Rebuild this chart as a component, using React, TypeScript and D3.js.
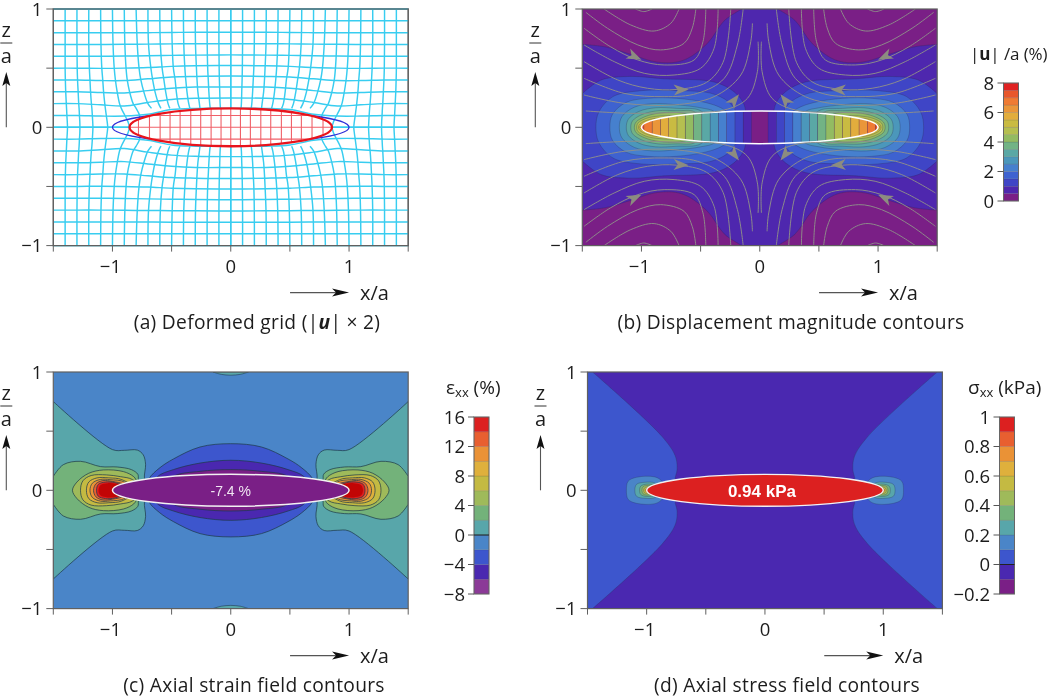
import React from "react";
import * as d3 from "d3";

type P = [number, number];

// ---- panel frames ----
const UNIT = 118.3;
const xDomain: P = [-1.5, 1.5];
const zDomain: P = [-1, 1];
const xTicks = [-1.5, -1, -0.5, 0, 0.5, 1, 1.5];
const zTicks = [-1, -0.5, 0, 0.5, 1];
const FONT = "'Open Sans', 'Noto Sans', sans-serif";

// ---- colour ramps ----
const ramp16 = ["#7a1f86", "#4e27ae", "#3f45c6", "#3e62d0", "#4680ce", "#4b97bb", "#5aa8a5", "#72b385", "#93bb62", "#b5bf50", "#c9bb42", "#e2ad3d", "#ea963a", "#ef7b34", "#e8572c", "#e02222"];
const ramp12 = ["#7a1f86", "#4a28b0", "#3d56cd", "#4a85c8", "#58a6aa", "#73b27a", "#9fba5a", "#c4ba42", "#dfb03c", "#ea9236", "#e85f30", "#dc2020"];
const barC = ["#8b3a97", ...ramp12.slice(1)];

// ---- panel (a): deformed grid, upper-left quadrant ----
const gridColumnsZ = [1, 0.7, 0.5, 0.4, 0.3, 0.2, 0.16, 0.1, 0.05, 0];
const gridColumns: number[][] = [
  [-1.4, -1.4, -1.4, -1.398, -1.395, -1.39, -1.388, -1.385, -1.382, -1.38],
  [-1.3, -1.3, -1.298, -1.295, -1.29, -1.285, -1.282, -1.279, -1.276, -1.275],
  [-1.2, -1.2, -1.195, -1.19, -1.185, -1.178, -1.174, -1.17, -1.167, -1.165],
  [-1.1, -1.097, -1.09, -1.082, -1.075, -1.065, -1.06, -1.052, -1.045, -1.04],
  [-1.0, -0.995, -0.985, -0.975, -0.96, -0.94, -0.925, -0.895, -0.87, -0.856],
  [-0.9, -0.895, -0.885, -0.875, -0.855, -0.825, -0.8, -0.77, -0.77, -0.77],
  [-0.8, -0.79, -0.775, -0.76, -0.735, -0.7, -0.67],
  [-0.7, -0.695, -0.675, -0.66, -0.64, -0.61, -0.59],
  [-0.6, -0.595, -0.58, -0.565, -0.55, -0.53, -0.515],
  [-0.5, -0.495, -0.485, -0.47, -0.46, -0.445, -0.43],
  [-0.4, -0.397, -0.388, -0.38, -0.37, -0.355, -0.345],
  [-0.3, -0.298, -0.29, -0.285, -0.278, -0.265, -0.26],
  [-0.2, -0.199, -0.195, -0.19, -0.185, -0.178, -0.173],
  [-0.1, -0.1, -0.098, -0.096, -0.093, -0.09, -0.087],
  [0, 0, 0, 0, 0, 0, 0],
];
const gridRowsX = [-1.5, -1.3, -1.1, -0.9, -0.7, -0.5, -0.3, 0];
const gridRows: number[][] = [
  [1, 1, 1, 1, 1, 1, 1, 1],
  [0.9, 0.9, 0.9, 0.9, 0.9, 0.9, 0.9, 0.9],
  [0.8, 0.8, 0.8, 0.8, 0.8, 0.802, 0.803, 0.803],
  [0.7, 0.7, 0.7, 0.702, 0.703, 0.705, 0.706, 0.707],
  [0.6, 0.6, 0.6, 0.602, 0.605, 0.608, 0.61, 0.612],
  [0.5, 0.5, 0.498, 0.5, 0.505, 0.515, 0.52, 0.522],
  [0.4, 0.4, 0.395, 0.395, 0.41, 0.425, 0.43, 0.433],
  [0.3, 0.3, 0.295, 0.29, 0.31, 0.33, 0.34, 0.34],
  [0.2, 0.2, 0.19, 0.18, 0.21, 0.235, 0.245, 0.248],
  [0.1, 0.1, 0.095, 0.095, 0.11, 0.15, 0.16, 0.16],
  [0, 0, 0, 0, 0, 0, 0, 0],
];
const innerColumnsX = [-0.78, -0.687, -0.597, -0.513, -0.428, -0.338, -0.254, -0.166, -0.082, 0, 0.082, 0.166, 0.254, 0.338, 0.428, 0.513, 0.597, 0.687, 0.78];
const innerRowsZ = [-0.1, 0, 0.1];
const originalEllipse: P = [1, 0.135];
const deformedEllipse: P = [0.856, 0.16];

// ---- panel (b): |u|/a contours, left lobe, upper half ----
const bLobes: { band: number; open?: boolean; pts: P[] }[] = [
  { band: 2, open: true, pts: [[-1.5, 0.285], [-1.34, 0.4], [-1.09, 0.43], [-0.81, 0.41], [-0.386, 0.383], [-0.217, 0.3], [-0.13, 0.186], [-0.118, 0]] },
  { band: 3, pts: [[-1.385, 0], [-1.36, 0.13], [-1.24, 0.26], [-1.0, 0.31], [-0.7, 0.31], [-0.42, 0.29], [-0.27, 0.22], [-0.2, 0.13], [-0.18, 0]] },
  { band: 4, pts: [[-1.267, 0], [-1.245, 0.11], [-1.13, 0.21], [-0.95, 0.245], [-0.7, 0.245], [-0.46, 0.21], [-0.32, 0.16], [-0.25, 0.1], [-0.22, 0]] },
  { band: 5, pts: [[-1.187, 0], [-1.165, 0.09], [-1.06, 0.17], [-0.9, 0.2], [-0.7, 0.19], [-0.5, 0.165], [-0.38, 0.13], [-0.3, 0]] },
  { band: 6, pts: [[-1.128, 0], [-1.11, 0.07], [-1.02, 0.135], [-0.88, 0.165], [-0.7, 0.16], [-0.5, 0.14], [-0.4, 0]] },
  { band: 7, pts: [[-1.09, 0], [-1.075, 0.055], [-0.99, 0.11], [-0.86, 0.14], [-0.7, 0.14], [-0.55, 0.13], [-0.47, 0]] },
  { band: 8, pts: [[-1.06, 0], [-1.045, 0.045], [-0.97, 0.09], [-0.85, 0.12], [-0.7, 0.125], [-0.6, 0.1], [-0.54, 0]] },
  { band: 9, pts: [[-1.04, 0], [-1.03, 0.035], [-0.96, 0.075], [-0.85, 0.095], [-0.7, 0.09], [-0.6, 0]] },
  { band: 10, pts: [[-1.025, 0], [-1.015, 0.025], [-0.95, 0.06], [-0.85, 0.075], [-0.7, 0]] },
  { band: 11, pts: [[-1.015, 0], [-1.005, 0.015], [-0.95, 0.04], [-0.85, 0.05], [-0.74, 0]] },
];
const bCorner: P[] = [[-1.5, 0.7], [-1.306, 0.68], [-1.1, 0.62], [-0.86, 0.55], [-0.65, 0.565], [-0.445, 0.707], [-0.297, 0.904], [-0.15, 1]];
const bCentre: P = [0.067, 0.14];
const bInnerEdges = [0.07, 0.14, 0.21, 0.28, 0.35, 0.42, 0.49, 0.56, 0.63, 0.7, 0.77, 0.84, 0.91, 0.98, 1.0];
const bEllipse: P = [1, 0.138];
const streamlines: P[][] = [
  [[-1.05, 1.0], [-0.98, 0.978], [-0.91, 1.0]],
  [[-1.316, 1.0], [-1.09, 0.865], [-0.893, 0.814], [-0.752, 0.879], [-0.682, 1.0]],
  [[-1.47, 0.972], [-1.287, 0.837], [-1.03, 0.696], [-0.837, 0.654], [-0.64, 0.71], [-0.57, 0.84], [-0.54, 1.0]],
  [[-1.485, 0.837], [-1.26, 0.68], [-1.03, 0.569], [-0.808, 0.527], [-0.555, 0.569], [-0.48, 0.724], [-0.456, 1.0]],
  [[-1.485, 0.696], [-1.23, 0.555], [-0.975, 0.456], [-0.724, 0.442], [-0.5, 0.499], [-0.386, 0.668], [-0.352, 1.0]],
  [[-1.485, 0.555], [-1.2, 0.4], [-0.95, 0.33], [-0.7, 0.32], [-0.45, 0.38], [-0.31, 0.55], [-0.245, 1.0]],
  [[-1.485, 0.414], [-1.147, 0.287], [-0.808, 0.259], [-0.527, 0.287], [-0.3, 0.414], [-0.189, 0.696], [-0.14, 1.0]],
  [[-1.485, 0.273], [-1.147, 0.203], [-0.724, 0.189], [-0.386, 0.259], [-0.16, 0.442], [-0.076, 0.724], [-0.062, 0.879]],
  [[-1.47, 0.138], [-1.09, 0.118], [-0.668, 0.127], [-0.3, 0.146], [-0.104, 0.245], [-0.02, 0.47], [-0.014, 0.724]],
];
const streamArrows: [number, number, number, number][] = [
  [-1.0, 0.57, 0.9, -0.42],
  [-0.6, 0.32, 1, 0.04],
  [-0.175, 0.28, 0.62, 0.78],
];

// ---- panel (c): axial strain contours ----
const cOuter: { band: number; open?: boolean; pts: P[] }[] = [
  { band: 4, open: true, pts: [[-1.5, 0.75], [-1.0, 0.344], [-0.9, 0.338], [-0.79, 0.34], [-0.74, 0.3], [-0.72, 0.22], [-0.73, 0.1], [-0.7, 0]] },
  { band: 5, open: true, pts: [[-1.5, 0.118], [-1.415, 0.217], [-1.27, 0.245], [-1.1, 0.2], [-0.96, 0.197], [-0.84, 0.175], [-0.785, 0.135], [-0.78, 0.09], [-0.75, 0]] },
  { band: 6, pts: [[-1.338, 0], [-1.3, 0.07], [-1.2, 0.144], [-1.076, 0.172], [-0.907, 0.158], [-0.82, 0.115], [-0.79, 0.07], [-0.75, 0]] },
  { band: 7, pts: [[-1.27, 0], [-1.25, 0.08], [-1.18, 0.125], [-1.05, 0.13], [-0.93, 0.115], [-0.83, 0.09], [-0.75, 0]] },
  { band: 8, pts: [[-1.22, 0], [-1.2, 0.07], [-1.13, 0.105], [-1.03, 0.105], [-0.92, 0.09], [-0.8, 0]] },
  { band: 9, pts: [[-1.19, 0], [-1.17, 0.06], [-1.1, 0.092], [-1.02, 0.09], [-0.9, 0.07], [-0.85, 0]] },
  { band: 10, pts: [[-1.16, 0], [-1.14, 0.055], [-1.08, 0.082], [-1.0, 0.075], [-0.9, 0.05], [-0.85, 0]] },
  { band: 11, pts: [[-1.135, 0], [-1.12, 0.05], [-1.06, 0.07], [-0.98, 0.065], [-0.9, 0.035], [-0.85, 0]] },
];
const cCore: P[] = [[-1.118, 0], [-1.1, 0.045], [-1.04, 0.06], [-0.97, 0.055], [-0.9, 0.03], [-0.85, 0]];
const cCoreColour = "#c20505";
const cLens: { band: number; pts: P[] }[] = [
  { band: 2, pts: [[-0.72, 0], [-0.69, 0.1], [-0.6, 0.19], [-0.484, 0.265], [-0.26, 0.366], [0, 0.394]] },
  { band: 1, pts: [[-0.68, 0], [-0.62, 0.115], [-0.484, 0.175], [-0.26, 0.23], [0, 0.254]] },
  { band: 0, pts: [[-0.6, 0], [-0.48, 0.12], [-0.26, 0.16], [0, 0.175]] },
];
const cCap: P[] = [[-0.15, 1], [-0.08, 0.98], [0, 0.973], [0.08, 0.98], [0.15, 1]];
const cEllipse: P = [1, 0.135];

// ---- panel (d): axial stress contours ----
const dOuter: { band: number; open?: boolean; pts: P[] }[] = [
  { band: 2, open: true, pts: [[-1.457, 1], [-0.871, 0.456], [-0.757, 0.287], [-0.743, 0.175], [-0.76, 0.09], [-0.74, 0]] },
  { band: 3, pts: [[-1.171, 0], [-1.157, 0.076], [-1.086, 0.11], [-0.93, 0.113], [-0.87, 0.076], [-0.85, 0]] },
  { band: 4, pts: [[-1.1, 0], [-1.086, 0.05], [-1.014, 0.068], [-0.93, 0.06], [-0.9, 0]] },
  { band: 5, pts: [[-1.06, 0], [-1.05, 0.035], [-1.0, 0.052], [-0.93, 0.04], [-0.9, 0]] },
  { band: 6, pts: [[-1.04, 0], [-1.03, 0.03], [-1.0, 0.04], [-0.93, 0.025], [-0.9, 0]] },
  { band: 7, pts: [[-1.025, 0], [-1.018, 0.02], [-0.98, 0.03], [-0.93, 0.015], [-0.9, 0]] },
  { band: 9, pts: [[-1.012, 0], [-1.006, 0.012], [-0.98, 0.018], [-0.93, 0]] },
];
const dEllipse: P = [1, 0.135];

// ---- colour bars ----
const barBLevels = d3.range(17).map((i) => i * 0.5);
const barBTicks = [0, 2, 4, 6, 8];
const barCLevels = [-8, -6, -4, -2, 0, 2, 4, 6, 8, 10, 12, 14, 16];
const barCTicks = [-8, -4, 0, 4, 8, 12, 16];
const barDLevels = [-0.2, -0.1, 0, 0.1, 0.2, 0.3, 0.4, 0.5, 0.6, 0.7, 0.8, 0.9, 1];
const barDTicks = [-0.2, 0, 0.2, 0.4, 0.6, 0.8, 1];

const minus = (s: string) => s.replace("-", "\u2212");

function makeScales(left: number, top: number) {
  return {
    x: d3.scaleLinear().domain(xDomain).range([left, left + 3 * UNIT]),
    z: d3.scaleLinear().domain(zDomain).range([top + 2 * UNIT, top]),
  };
}
type S = ReturnType<typeof makeScales>;

function lineFor(s: S, curve: any) {
  return d3.line<P>().x((d) => s.x(d[0])).y((d) => s.z(d[1])).curve(curve);
}
function lobePath(s: S, pts: P[], sx: number, open?: boolean) {
  const top: P[] = pts.map(([x, z]) => [sx * x, z]);
  const first = top[0];
  const bottom: P[] = top.slice(0, -1).reverse().map(([x, z]) => [x, -z]);
  if (open) {
    const edge = sx * -1.5;
    return lineFor(s, d3.curveCatmullRom)([...top, ...bottom]) + `L${s.x(edge)},${s.z(-first[1])}L${s.x(edge)},${s.z(first[1])}Z`;
  }
  const inner: P[] = top.slice(1, -1).reverse().map(([x, z]) => [x, -z]);
  return lineFor(s, d3.curveCatmullRomClosed)([...top, ...inner]) as string;
}
function lensPath(s: S, pts: P[]) {
  const left = pts;
  const right: P[] = pts.slice(0, -1).reverse().map(([x, z]) => [-x, z]);
  const top = [...left, ...right];
  const inner: P[] = top.slice(1, -1).reverse().map(([x, z]) => [x, -z]);
  return lineFor(s, d3.curveCatmullRomClosed)([...top, ...inner]) as string;
}

const QUADS: P[] = [[1, 1], [-1, 1], [1, -1], [-1, -1]];

function Frame({ s }: { s: S }) {
  const [x0, x1] = s.x.range();
  const [z0, z1] = s.z.range();
  const col = "#606060";
  return (
    <g fontFamily={FONT} fill="#1c1c1c">
      <rect x={x0} y={z1} width={x1 - x0} height={z0 - z1} fill="none" stroke={col} strokeWidth={1.2} />
      {xTicks.map((t) => (
        <line key={t} x1={s.x(t)} x2={s.x(t)} y1={z0} y2={z0 + 6} stroke={col} strokeWidth={1} />
      ))}
      {zTicks.map((t) => (
        <line key={t} x1={x0 - 7} x2={x0} y1={s.z(t)} y2={s.z(t)} stroke={col} strokeWidth={1} />
      ))}
      {[-1, 0, 1].map((t) => (
        <text key={t} x={s.x(t) - (t < 0 ? 2 : 0)} y={z0 + 27} fontSize={18.5} textAnchor="middle">
          {minus(String(t))}
        </text>
      ))}
      {[-1, 0, 1].map((t) => (
        <text key={t} x={x0 - 11} y={s.z(t) + 6.5} fontSize={18.5} textAnchor="end">
          {minus(String(t))}
        </text>
      ))}
      {/* z/a fraction and arrow */}
      <text x={x0 - 47} y={z1 + 28} fontSize={20} textAnchor="middle">z</text>
      <line x1={x0 - 53} x2={x0 - 41} y1={z1 + 34} y2={z1 + 34} stroke="#333" strokeWidth={1} />
      <text x={x0 - 47} y={z1 + 54} fontSize={20} textAnchor="middle">a</text>
      <line x1={x0 - 47} x2={x0 - 47} y1={s.z(0)} y2={z1 + 70} stroke="#555" strokeWidth={1.1} />
      <polygon points={`${x0 - 47},${z1 + 63} ${x0 - 51},${z1 + 77} ${x0 - 47},${z1 + 74} ${x0 - 43},${z1 + 77}`} fill="#111" />
      {/* x/a arrow */}
      <line x1={s.x(1) - 59} x2={s.x(1) - 6} y1={z0 + 47} y2={z0 + 47} stroke="#555" strokeWidth={1.1} />
      <polygon points={`${s.x(1)},${z0 + 47} ${s.x(1) - 17},${z0 + 43} ${s.x(1) - 13},${z0 + 47} ${s.x(1) - 17},${z0 + 51}`} fill="#111" />
      <text x={s.x(1) + 11} y={z0 + 54} fontSize={20}>x/a</text>
    </g>
  );
}

function ColorBar({ left, top, height, levels, ticks, colours, labelEnd, fmt, zeroLine }: any) {
  const y = d3.scaleLinear().domain([levels[0], levels[levels.length - 1]]).range([top + height, top]);
  const w = 15;
  return (
    <g fontFamily={FONT} fill="#1c1c1c">
      {colours.map((c: string, i: number) => (
        <rect key={i} x={left} width={w} y={y(levels[i + 1])} height={y(levels[i]) - y(levels[i + 1])} fill={c} stroke="#444" strokeOpacity={0.25} strokeWidth={0.6} />
      ))}
      <rect x={left} y={top} width={w} height={height} fill="none" stroke="#666" strokeWidth={1} />
      {zeroLine && <line x1={left} x2={left + w} y1={y(0)} y2={y(0)} stroke="#222" strokeWidth={1} />}
      {ticks.map((t: number) => (
        <g key={t}>
          <line x1={left - 6} x2={left} y1={y(t)} y2={y(t)} stroke="#555" strokeWidth={1} />
          <text x={labelEnd} y={y(t) + 6.5} fontSize={18.5} textAnchor="end">{fmt(t)}</text>
        </g>
      ))}
    </g>
  );
}

const Caption = ({ x, y, children }: any) => (
  <text x={x} y={y} fontFamily={FONT} fontSize={19.2} textAnchor="middle" fill="#1c1c1c" letterSpacing={0.3}>
    {children}
  </text>
);

function PanelA({ s }: { s: S }) {
  const curve = lineFor(s, d3.curveCatmullRom);
  const paths: string[] = [];
  gridColumns.forEach((col) => {
    const upper: P[] = col.map((x, i) => [x, gridColumnsZ[i]]);
    const hasAxis = upper[upper.length - 1][1] === 0;
    [1, -1].forEach((sx) => {
      const up: P[] = upper.map(([x, z]) => [sx * x, z]);
      const down: P[] = up.slice(0, hasAxis ? -1 : undefined).reverse().map(([x, z]) => [x, -z]);
      if (hasAxis) paths.push(curve([...up, ...down]) as string);
      else {
        paths.push(curve(up) as string);
        paths.push(curve(down) as string);
      }
    });
  });
  gridRows.forEach((row) => {
    const left: P[] = row.map((z, i) => [gridRowsX[i], z]);
    const right: P[] = left.slice(0, -1).reverse().map(([x, z]) => [-x, z]);
    const whole = [...left, ...right];
    paths.push(curve(whole) as string);
    paths.push(curve(whole.map(([x, z]) => [x, -z] as P)) as string);
  });
  const [x0, x1] = s.x.range();
  const [z0, z1] = s.z.range();
  const cx = s.x(0);
  const cz = s.z(0);
  const rx = (e: P) => s.x(e[0]) - cx;
  const rz = (e: P) => cz - s.z(e[1]);
  return (
    <g>
      <defs>
        <clipPath id="innerA">
          <ellipse cx={cx} cy={cz} rx={rx(deformedEllipse)} ry={rz(deformedEllipse)} />
        </clipPath>
      </defs>
      <rect x={x0} y={z1} width={x1 - x0} height={z0 - z1} fill="none" stroke="#606060" strokeWidth={1.2} />
      {paths.map((d, i) => (
        <path key={i} d={d} fill="none" stroke="#38cdf0" strokeWidth={1.45} />
      ))}
      <ellipse cx={cx} cy={cz} rx={rx(originalEllipse)} ry={rz(originalEllipse)} fill="none" stroke="#3030d8" strokeWidth={1.3} />
      <ellipse cx={cx} cy={cz} rx={rx(deformedEllipse)} ry={rz(deformedEllipse)} fill="#fff" />
      <g clipPath="url(#innerA)" stroke="#f06068" strokeWidth={1.1}>
        {innerColumnsX.map((x) => (
          <line key={x} x1={s.x(x)} x2={s.x(x)} y1={s.z(0.2)} y2={s.z(-0.2)} />
        ))}
        {innerRowsZ.map((z) => (
          <line key={z} x1={s.x(-1)} x2={s.x(1)} y1={s.z(z)} y2={s.z(z)} />
        ))}
      </g>
      <ellipse cx={cx} cy={cz} rx={rx(deformedEllipse)} ry={rz(deformedEllipse)} fill="none" stroke="#e8141c" strokeWidth={2.3} />
    </g>
  );
}

function PanelB({ s }: { s: S }) {
  const [x0, x1] = s.x.range();
  const [z0, z1] = s.z.range();
  const cx = s.x(0);
  const cz = s.z(0);
  const stroke = "#2a2a50";
  const rawLine = lineFor(s, d3.curveCatmullRom);
  return (
    <g>
      <defs>
        <clipPath id="plotB"><rect x={x0} y={z1} width={x1 - x0} height={z0 - z1} /></clipPath>
        <clipPath id="innerB">
          <ellipse cx={cx} cy={cz} rx={s.x(bEllipse[0]) - cx} ry={cz - s.z(bEllipse[1])} />
        </clipPath>
      </defs>
      <g clipPath="url(#plotB)">
        <rect x={x0} y={z1} width={x1 - x0} height={z0 - z1} fill={ramp16[1]} />
        {QUADS.map(([a, b], i) => {
          const pts: P[] = bCorner.map(([x, z]) => [a * x, b * z]);
          return (
            <path key={i} d={rawLine(pts) + `L${s.x(a * -1.5)},${s.z(b)}Z`} fill={ramp16[0]} stroke={stroke} strokeOpacity={0.4} strokeWidth={0.7} />
          );
        })}
        {[1, -1].map((sx) =>
          bLobes.map((l) => (
            <path key={`${sx}${l.band}`} d={lobePath(s, l.pts, sx, l.open)} fill={ramp16[l.band]} stroke={stroke} strokeOpacity={0.4} strokeWidth={0.7} />
          ))
        )}
        <ellipse cx={cx} cy={cz} rx={s.x(bCentre[0]) - cx} ry={cz - s.z(bCentre[1])} fill={ramp16[0]} stroke={stroke} strokeOpacity={0.4} strokeWidth={0.7} />
        <g clipPath="url(#innerB)">
          <ellipse cx={cx} cy={cz} rx={s.x(1) - cx} ry={cz - s.z(0.2)} fill={ramp16[0]} />
          {[1, -1].map((sx) =>
            bInnerEdges.map((e, i) => {
              const next = bInnerEdges[i + 1] ?? 1.0;
              const a = s.x(sx * e);
              const b = s.x(sx * next);
              return (
                <rect key={`${sx}${i}`} x={Math.min(a, b)} width={Math.abs(b - a)} y={s.z(0.2)} height={s.z(-0.2) - s.z(0.2)} fill={ramp16[Math.min(i + 1, 15)]} stroke={stroke} strokeOpacity={0.35} strokeWidth={0.6} />
              );
            })
          )}
        </g>
        <ellipse cx={cx} cy={cz} rx={s.x(bEllipse[0]) - cx} ry={cz - s.z(bEllipse[1])} fill="none" stroke="#fff" strokeWidth={1.5} />
        {QUADS.map(([a, b], i) => (
          <g key={i}>
            {streamlines.map((pts, j) => (
              <path key={j} d={rawLine(pts.map(([x, z]) => [a * x, b * z] as P)) as string} fill="none" stroke="#8e8e8a" strokeWidth={0.95} />
            ))}
            {streamArrows.map(([x, z, dx, dz], j) => {
              const px = s.x(a * x);
              const py = s.z(b * z);
              const n = Math.hypot(dx, dz);
              const ux = (a * dx) / n;
              const uy = (-b * dz) / n;
              const pt = (back: number, side: number) => `${px - ux * back - uy * side},${py - uy * back + ux * side}`;
              return <polygon key={j} points={`${pt(0, 0)} ${pt(15, 5.5)} ${pt(11, 0)} ${pt(15, -5.5)}`} fill="#8c8c80" />;
            })}
          </g>
        ))}
      </g>
    </g>
  );
}

function PanelC({ s }: { s: S }) {
  const [x0, x1] = s.x.range();
  const [z0, z1] = s.z.range();
  const cx = s.x(0);
  const cz = s.z(0);
  const stroke = "#1f3a4a";
  const capLine = lineFor(s, d3.curveCatmullRom);
  return (
    <g>
      <defs>
        <clipPath id="plotC"><rect x={x0} y={z1} width={x1 - x0} height={z0 - z1} /></clipPath>
      </defs>
      <g clipPath="url(#plotC)">
        <rect x={x0} y={z1} width={x1 - x0} height={z0 - z1} fill={ramp12[3]} />
        {[1, -1].map((b) => (
          <path key={b} d={(capLine(cCap.map(([x, z]) => [x, b * z] as P)) as string) + "Z"} fill={ramp12[4]} stroke={stroke} strokeOpacity={0.7} strokeWidth={0.8} />
        ))}
        {cLens.map((l) => (
          <path key={l.band} d={lensPath(s, l.pts)} fill={ramp12[l.band]} stroke={stroke} strokeWidth={0.9} strokeOpacity={0.8} />
        ))}
        {[1, -1].map((sx) => (
          <g key={sx}>
            {cOuter.map((l) => (
              <path key={l.band} d={lobePath(s, l.pts, sx, l.open)} fill={ramp12[l.band]} stroke={stroke} strokeWidth={0.9} strokeOpacity={0.8} />
            ))}
            <path d={lobePath(s, cCore, sx)} fill={cCoreColour} />
          </g>
        ))}
        <ellipse cx={cx} cy={cz} rx={s.x(cEllipse[0]) - cx} ry={cz - s.z(cEllipse[1])} fill={ramp12[0]} stroke="#f2f2f2" strokeWidth={1.5} />
      </g>
      <text x={cx} y={cz + 6} fontFamily="'Liberation Sans', sans-serif" fontSize={14} fill="#f0e6f2" textAnchor="middle">-7.4 %</text>
    </g>
  );
}

function PanelD({ s }: { s: S }) {
  const [x0, x1] = s.x.range();
  const [z0, z1] = s.z.range();
  const cx = s.x(0);
  const cz = s.z(0);
  const stroke = "#2a3a60";
  return (
    <g>
      <defs>
        <clipPath id="plotD"><rect x={x0} y={z1} width={x1 - x0} height={z0 - z1} /></clipPath>
      </defs>
      <g clipPath="url(#plotD)">
        <rect x={x0} y={z1} width={x1 - x0} height={z0 - z1} fill={ramp12[1]} />
        {[1, -1].map((sx) =>
          dOuter.map((l) => (
            <path key={`${sx}${l.band}`} d={lobePath(s, l.pts, sx, l.open)} fill={ramp12[l.band]} stroke={stroke} strokeOpacity={0.45} strokeWidth={0.7} />
          ))
        )}
        <ellipse cx={cx} cy={cz} rx={s.x(dEllipse[0]) - cx} ry={cz - s.z(dEllipse[1])} fill={ramp12[11]} stroke="#f2f2f2" strokeWidth={1.4} />
      </g>
      <text x={cx - 3} y={cz + 7} fontFamily="'Liberation Sans', sans-serif" fontWeight={700} fontSize={17} fill="#fff" textAnchor="middle">0.94 kPa</text>
    </g>
  );
}

export default function App() {
  const a = makeScales(53.3, 9);
  const b = makeScales(582.3, 9);
  const c = makeScales(53.3, 372);
  const d = makeScales(587.5, 372);
  return (
    <svg width={1050} height={699} viewBox="0 0 1050 699" style={{ position: "absolute", left: 0, top: 0, background: "#fff", filter: "blur(0.35px)" }}>
      <PanelA s={a} />
      <Frame s={a} />
      <PanelB s={b} />
      <Frame s={b} />
      <PanelC s={c} />
      <Frame s={c} />
      <PanelD s={d} />
      <Frame s={d} />

      <ColorBar left={1003.5} top={83} height={118} levels={barBLevels} ticks={barBTicks} colours={ramp16} labelEnd={994} fmt={(t: number) => String(t)} />
      <ColorBar left={474} top={417} height={177} levels={barCLevels} ticks={barCTicks} colours={barC} labelEnd={465} fmt={(t: number) => minus(String(t))} zeroLine />
      <ColorBar left={999.5} top={417} height={177} levels={barDLevels} ticks={barDTicks} colours={ramp12} labelEnd={990} fmt={(t: number) => minus(String(t))} zeroLine />

      <text x={970} y={60} fontFamily={FONT} fontSize={17} letterSpacing={-0.1} fill="#1c1c1c">
        |<tspan fontWeight={700}>u</tspan>| /a (%)
      </text>
      <text x={446} y={394} fontFamily={FONT} fontSize={19} fill="#1c1c1c">
        ε<tspan fontSize={13} dy={3}>xx</tspan><tspan dy={-3}> (%)</tspan>
      </text>
      <text x={968} y={394} fontFamily={FONT} fontSize={19} fill="#1c1c1c">
        σ<tspan fontSize={13} dy={3}>xx</tspan><tspan dy={-3}> (kPa)</tspan>
      </text>

      <Caption x={257} y={329}>
        (a) Deformed grid (|<tspan fontWeight={700} fontStyle="italic">u</tspan>| × 2)
      </Caption>
      <Caption x={791} y={329}>(b) Displacement magnitude contours</Caption>
      <Caption x={254} y={692}>(c) Axial strain field contours</Caption>
      <Caption x={787} y={692}>(d) Axial stress field contours</Caption>
    </svg>
  );
}
